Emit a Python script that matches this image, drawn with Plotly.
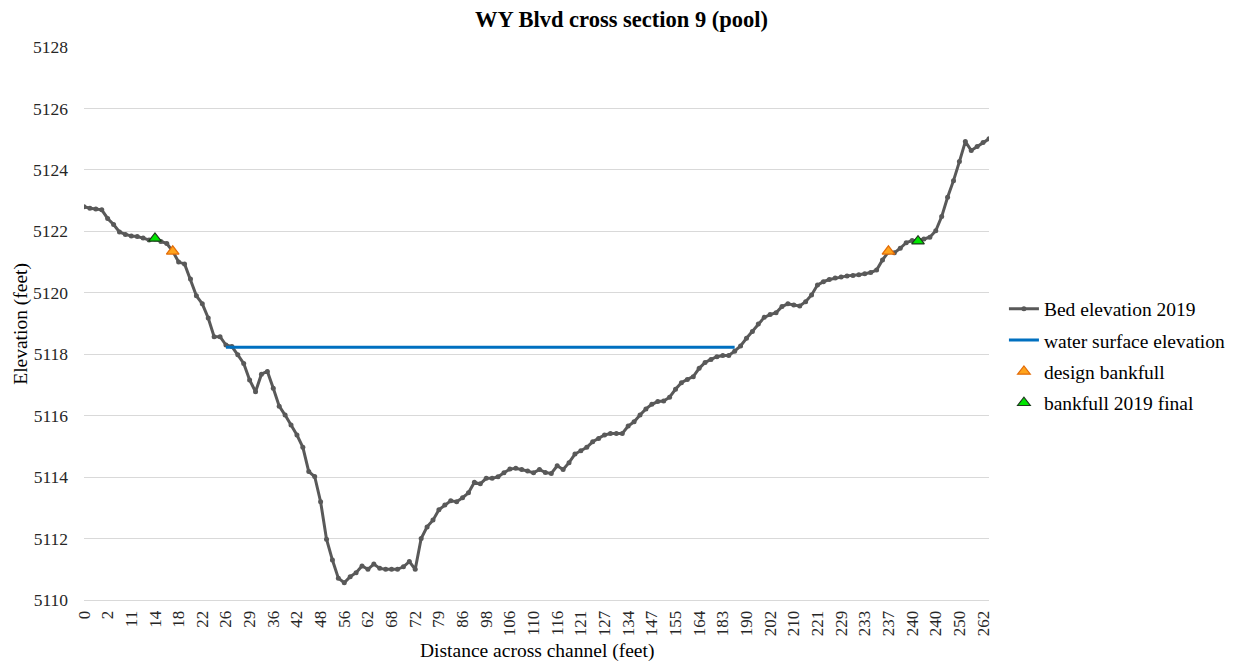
import plotly.graph_objects as go

# ---------------- data ----------------
chart_title = "WY Blvd cross section 9 (pool)"
x_title = "Distance across channel (feet)"
y_title = "Elevation (feet)"

# category labels shown on the x axis (every 4th category)
tick_labels = [0, 2, 11, 14, 18, 22, 26, 29, 36, 42, 48, 56, 62, 68, 72, 79, 86, 98,
               106, 110, 116, 121, 127, 134, 147, 155, 164, 183, 190, 202, 210, 221,
               229, 233, 237, 240, 240, 250, 262]
label_step = 4

bed_elevation_2019 = [
    5122.80, 5122.75, 5122.73, 5122.70, 5122.42, 5122.22, 5121.98, 5121.90, 5121.85, 5121.83,
    5121.78, 5121.72, 5121.75, 5121.67, 5121.60, 5121.35, 5121.00, 5120.94, 5120.45, 5119.90,
    5119.64, 5119.18, 5118.57, 5118.57, 5118.30, 5118.25, 5117.98, 5117.70, 5117.16, 5116.78,
    5117.35, 5117.44, 5116.89, 5116.31, 5116.02, 5115.70, 5115.37, 5114.97, 5114.18, 5114.02,
    5113.20, 5111.98, 5111.30, 5110.71, 5110.56, 5110.76, 5110.89, 5111.11, 5111.00, 5111.17,
    5111.03, 5111.00, 5111.00, 5111.00, 5111.08, 5111.25, 5111.00, 5112.00, 5112.38, 5112.60,
    5112.94, 5113.09, 5113.23, 5113.20, 5113.33, 5113.49, 5113.83, 5113.78, 5113.96, 5113.96,
    5114.01, 5114.14, 5114.26, 5114.29, 5114.25, 5114.20, 5114.14, 5114.25, 5114.15, 5114.12,
    5114.37, 5114.25, 5114.47, 5114.75, 5114.86, 5114.97, 5115.15, 5115.26, 5115.37, 5115.42,
    5115.42, 5115.42, 5115.66, 5115.80, 5116.02, 5116.22, 5116.37, 5116.46, 5116.48, 5116.60,
    5116.86, 5117.07, 5117.18, 5117.27, 5117.54, 5117.73, 5117.83, 5117.92, 5117.96, 5117.96,
    5118.10, 5118.27, 5118.52, 5118.74, 5118.98, 5119.20, 5119.29, 5119.35, 5119.55, 5119.64,
    5119.60, 5119.57, 5119.71, 5119.93, 5120.25, 5120.36, 5120.43, 5120.48, 5120.51, 5120.55,
    5120.56, 5120.59, 5120.62, 5120.66, 5120.74, 5121.07, 5121.33, 5121.30, 5121.45, 5121.63,
    5121.70, 5121.70, 5121.75, 5121.81, 5122.02, 5122.48, 5123.11, 5123.65, 5124.27, 5124.92,
    5124.63, 5124.76, 5124.89, 5125.01,
]

water_surface_level = 5118.23
water_first_category = 24
water_last_category = 110

design_bankfull_category = [15, 136]
design_bankfull_elev = [5121.35, 5121.35]

bankfull_final_category = [12, 141]
bankfull_final_elev = [5121.77, 5121.68]

y_min, y_max, y_step = 5110, 5128, 2

# ---------------- figure ----------------
FONT = "Liberation Serif"
n = len(bed_elevation_2019)
cats = list(range(n))
water_cats = list(range(water_first_category, water_last_category + 1))

W, H = 1243, 667
ML, MR, MT, MB = 84, 250, 47, 67
plot_w = W - ML - MR
plot_h = H - MT - MB

fig = go.Figure()
fig.add_trace(go.Scatter(
    x=cats, y=bed_elevation_2019, mode="lines+markers", name="Bed elevation 2019",
    line=dict(color="#595959", width=3), marker=dict(color="#595959", size=5, symbol="circle"),
    legendgroup="a"))
fig.add_trace(go.Scatter(
    x=water_cats, y=[water_surface_level] * len(water_cats), mode="lines",
    name="water surface elevation", line=dict(color="#0070C0", width=3), legendgroup="b"))
fig.add_trace(go.Scatter(
    x=design_bankfull_category, y=design_bankfull_elev, mode="markers", name="design bankfull",
    marker=dict(symbol="triangle-up", size=11, color="#FFA41C", line=dict(color="#E36C09", width=1.2)),
    legendgroup="c"))
fig.add_trace(go.Scatter(
    x=bankfull_final_category, y=bankfull_final_elev, mode="markers", name="bankfull 2019 final",
    marker=dict(symbol="triangle-up", size=11, color="#00E600", line=dict(color="#1E3A1E", width=1.2)),
    legendgroup="d"))

fig.update_layout(
    width=W, height=H,
    paper_bgcolor="white", plot_bgcolor="white",
    margin=dict(l=ML, r=MR, t=MT, b=MB),
    font=dict(family=FONT, color="#262626", size=17),
    title=dict(text="<b>" + chart_title + "</b>", x=0.5, xref="container", xanchor="center",
               y=1 - 19 / H, yref="container", yanchor="middle",
               font=dict(family=FONT, size=22.5, color="black")),
    showlegend=True,
    legend=dict(x=(1008 - ML) / plot_w, xanchor="left", y=(600 - 356) / plot_h, yanchor="middle",
                font=dict(family=FONT, size=19.5, color="black"),
                tracegroupgap=3, bgcolor="rgba(0,0,0,0)"),
    xaxis=dict(range=[0, n - 1], tickmode="array",
               tickvals=[i * label_step for i in range(len(tick_labels))],
               ticktext=[str(v) for v in tick_labels], tickangle=-90,
               showgrid=False, zeroline=False, showline=True, linecolor="#D9D9D9", linewidth=1,
               ticks="", ticklabelstandoff=3, tickfont=dict(family=FONT, size=17, color="#262626")),
    yaxis=dict(range=[y_min, y_max], tickmode="linear", tick0=y_min, dtick=y_step,
               showgrid=True, gridcolor="#D9D9D9", gridwidth=1, zeroline=False, showline=False,
               ticks="", ticklabelstandoff=15, tickformat="d",
               tickfont=dict(family=FONT, size=17.5, color="#262626")),
    annotations=[
        dict(text=x_title, xref="paper", yref="paper", x=0.5, y=(600 - 651) / plot_h,
             xanchor="center", yanchor="middle", showarrow=False,
             font=dict(family=FONT, size=19.5, color="black")),
        dict(text=y_title, xref="paper", yref="paper", x=(20 - ML) / plot_w, y=0.5,
             xanchor="center", yanchor="middle", showarrow=False, textangle=-90,
             font=dict(family=FONT, size=19.5, color="black")),
    ],
)

# remove the default 8px page margin so the figure fills the window exactly
fig.write_html("out.html", config={"displayModeBar": False},
               post_script="document.body.style.margin='0';")
